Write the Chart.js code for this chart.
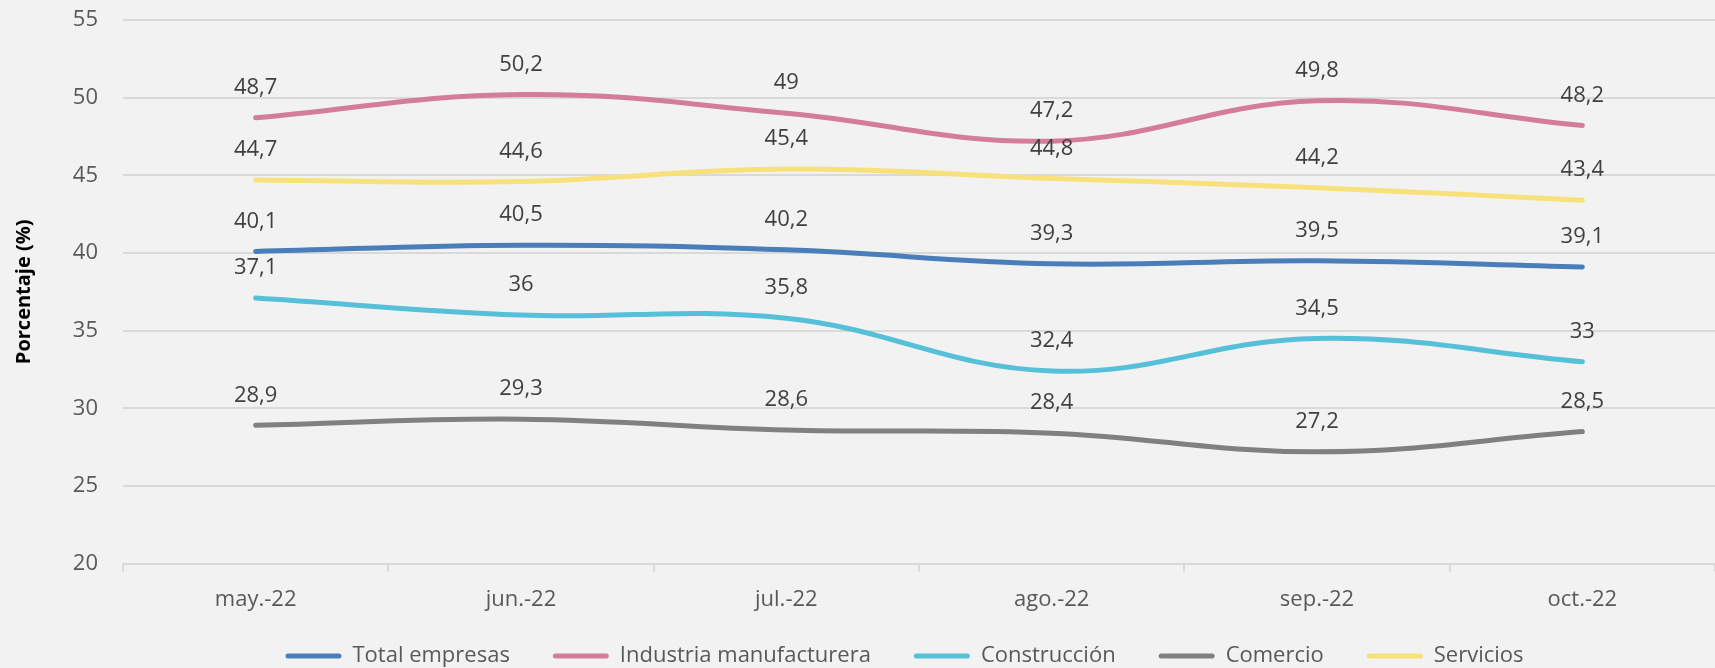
<!DOCTYPE html>
<html lang="es">
<head>
    <meta charset="UTF-8">
    <title>Porcentaje por sector</title>
    <style>
        html, body {
            margin: 0;
            padding: 0;
            background-color: #f2f2f2;
        }
        #chart {
            display: block;
        }
    </style>
</head>
<body>
    <canvas id="chart" width="1715" height="668"></canvas>

    <script src="https://cdn.jsdelivr.net/npm/chart.js"></script>
    <script>
        // Data
        const months = ['may.-22', 'jun.-22', 'jul.-22', 'ago.-22', 'sep.-22', 'oct.-22'];
        const totalEmpresas = [40.1, 40.5, 40.2, 39.3, 39.5, 39.1];
        const industria = [48.7, 50.2, 49, 47.2, 49.8, 48.2];
        const construccion = [37.1, 36, 35.8, 32.4, 34.5, 33];
        const comercio = [28.9, 29.3, 28.6, 28.4, 27.2, 28.5];
        const servicios = [44.7, 44.6, 45.4, 44.8, 44.2, 43.4];

        const FONT = "'Open Sans', 'Noto Sans', sans-serif";

        function series(label, data, color) {
            return {
                label: label,
                data: data,
                borderColor: color,
                backgroundColor: color,
                borderWidth: 5,
                borderCapStyle: 'round',
                pointRadius: 0,
                pointHoverRadius: 0,
                tension: 0.4,
                fill: false
            };
        }

        // value labels above every point, decimal comma
        const valueLabels = {
            id: 'valueLabels',
            afterDatasetsDraw(chart) {
                const ctx = chart.ctx;
                ctx.save();
                ctx.font = '22px ' + FONT;
                ctx.fillStyle = '#404040';
                ctx.textAlign = 'center';
                ctx.textBaseline = 'middle';
                chart.data.datasets.forEach((ds, i) => {
                    const meta = chart.getDatasetMeta(i);
                    meta.data.forEach((pt, j) => {
                        const txt = String(ds.data[j]).replace('.', ',');
                        ctx.fillText(txt, pt.x, pt.y - 30);
                    });
                });
                ctx.restore();
            }
        };

        // move the legend row to where the original has it
        const legendShift = {
            id: 'legendShift',
            afterLayout(chart) {
                const lg = chart.legend;
                lg.left += 84;
                lg.top = 602;
                lg.bottom = 668;
            }
        };

        const ctx = document.getElementById('chart').getContext('2d');
        const chart = new Chart(ctx, {
            type: 'line',
            data: {
                labels: months,
                datasets: [
                    series('Total empresas', totalEmpresas, '#4a7ebb'),
                    series('Industria manufacturera', industria, '#d47d9b'),
                    series('Construcción', construccion, '#55c0d8'),
                    series('Comercio', comercio, '#808080'),
                    series('Servicios', servicios, '#f8e07a')
                ]
            },
            options: {
                responsive: false,
                animation: false,
                devicePixelRatio: 1,
                layout: {
                    padding: { top: 20, right: -10, left: 0, bottom: 0 }
                },
                plugins: {
                    tooltip: { enabled: false },
                    legend: {
                        position: 'bottom',
                        maxHeight: 40,
                        labels: {
                            boxWidth: 56,
                            boxHeight: 5,
                            padding: 43,
                            useBorderRadius: true,
                            borderRadius: 2.5,
                            color: '#595959',
                            font: { family: FONT, size: 22 },
                            generateLabels(chart) {
                                const items = Chart.defaults.plugins.legend.labels.generateLabels(chart);
                                items.forEach(it => { it.lineWidth = 0; });
                                return items;
                            }
                        }
                    }
                },
                scales: {
                    x: {
                        offset: true,
                        grid: {
                            display: true,
                            offset: true,
                            drawOnChartArea: false,
                            drawTicks: true,
                            tickLength: 8,
                            color: '#d9d9d9',
                            lineWidth: 2
                        },
                        border: { display: true, color: '#d9d9d9', width: 2 },
                        ticks: {
                            color: '#595959',
                            padding: 15,
                            maxRotation: 0,
                            font: { family: FONT, size: 22 }
                        }
                    },
                    y: {
                        min: 20,
                        max: 55,
                        grid: {
                            color: '#d9d9d9',
                            lineWidth: 2,
                            drawTicks: true,
                            tickLength: 25,
                            tickColor: 'rgba(0,0,0,0)'
                        },
                        border: { display: false },
                        ticks: {
                            stepSize: 5,
                            color: '#595959',
                            padding: 0,
                            font: { family: FONT, size: 22 }
                        },
                        title: {
                            display: true,
                            text: 'Porcentaje (%)',
                            color: '#000000',
                            padding: { top: 12, bottom: 0 },
                            font: { family: FONT, size: 20, weight: 'bold' }
                        },
                        afterFit(scale) { scale.width = 123; }
                    }
                }
            },
            plugins: [valueLabels, legendShift]
        });
    </script>
</body>
</html>
